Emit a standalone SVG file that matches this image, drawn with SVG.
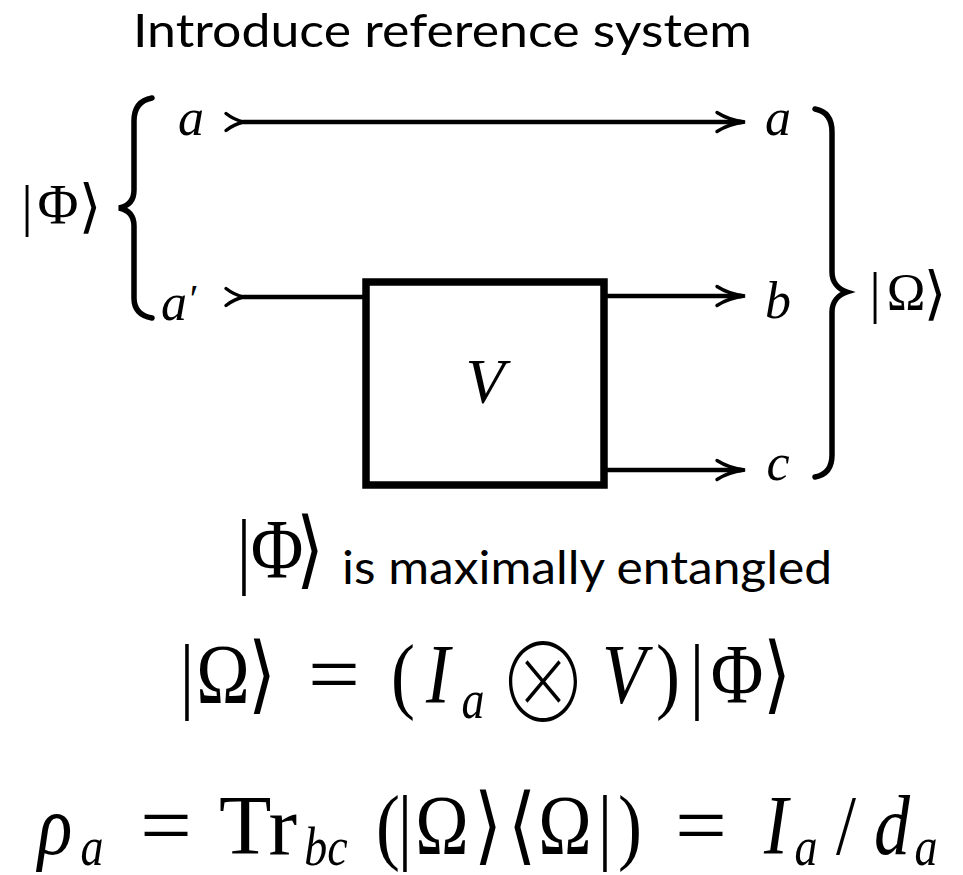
<svg xmlns="http://www.w3.org/2000/svg" width="963" height="875" viewBox="0 0 963 875">
<style>
.m{font-family:"Liberation Serif","DejaVu Serif",serif;fill:#000;text-anchor:middle}
.i{font-style:italic}
.br{font-family:"DejaVu Sans",sans-serif;fill:#000;text-anchor:middle}
.op{font-family:"Noto Sans CJK JP","DejaVu Sans",sans-serif;font-weight:100;fill:#000;text-anchor:middle}
.txt{font-family:Lato,"Liberation Sans",sans-serif;fill:#000}
.wire{stroke:#000;stroke-width:4.5;fill:none}
.brace{stroke:#000;stroke-width:5.5;fill:none;stroke-linecap:round}
.box{stroke:#000;stroke-width:7.5;fill:#fff}
.f{font-size:72px}
.s{font-size:46px}
</style>
<defs>
<marker id="head" markerUnits="userSpaceOnUse" orient="auto" refX="0" refY="0" viewBox="-30 -13 36 26" markerWidth="36" markerHeight="26" overflow="visible">
<path d="M-24,-9.5 C-14,-3 -5,-1 4,0 C-5,1 -14,3 -24,9.5" fill="none" stroke="#000" stroke-width="3.4" stroke-linecap="round"/>
</marker>
<marker id="tail" markerUnits="userSpaceOnUse" orient="auto" refX="0" refY="0" viewBox="-22 -12 26 24" markerWidth="26" markerHeight="24" overflow="visible">
<path d="M-17,-8.5 C-10,-3 -4,-1 1,0 C-4,1 -10,3 -17,8.5" fill="none" stroke="#000" stroke-width="3.4" stroke-linecap="round"/>
</marker>
</defs>
<rect width="963" height="875" fill="#fff"/>

<g id="title">
<text class="txt" x="133" y="47" font-size="46" textLength="619" lengthAdjust="spacingAndGlyphs">Introduce reference system</text>
</g>

<g id="connectors">
<path class="wire" d="M243,122 H741" marker-start="url(#tail)" marker-end="url(#head)"/>
<path class="wire" d="M243,297 H366" marker-start="url(#tail)"/>
<path class="wire" d="M604,296 H741" marker-end="url(#head)"/>
<path class="wire" d="M604,470 H741" marker-end="url(#head)"/>
</g>

<g id="node-V">
<rect class="box" x="366" y="282" width="238" height="203"/>
<text class="m i" x="485" y="403" font-size="64">V</text>
</g>

<g id="input-labels">
<text class="m i" x="191" y="135" font-size="52">a</text>
<text class="m i" x="174" y="320" font-size="52">a</text>
<text class="m" x="194" y="312" font-size="40">′</text>
</g>

<g id="output-labels">
<text class="m i" x="778" y="135" font-size="52">a</text>
<text class="m i" x="778" y="318" font-size="52">b</text>
<text class="m i" x="778" y="480" font-size="52">c</text>
</g>

<g id="phi-state">
<path class="brace" d="M152,98 C141,100 134,107 134,121 L134,190 C134,200 129,206 119,208 C129,210 134,216 134,226 L134,298 C134,310 141,316 152,318"/>
<text class="m" x="27" y="225" font-size="58">|</text>
<text class="m" x="58" y="224" font-size="56">Φ</text>
<text class="br" x="90" y="226" font-size="58">⟩</text>
</g>

<g id="omega-state">
<path class="brace" d="M815,109 C826,111 832,118 832,132 L832,272 C832,282 838,289 847,292 C838,295 832,302 832,312 L832,455 C832,468 826,475 815,477"/>
<text class="m" x="875" y="312" font-size="58">|</text>
<text class="m" x="906" y="310" font-size="52">Ω</text>
<text class="br" x="935" y="313" font-size="58">⟩</text>
</g>

<g id="line-entangled">
<g transform="translate(0,578) scale(1,1.18)">
<text class="m f" x="244" y="0">|</text>
<text class="m f" x="277" y="0">Φ</text>
<text class="br f" x="310" y="0">⟩</text>
</g>
<text class="txt" x="342" y="584" font-size="46" textLength="490" lengthAdjust="spacingAndGlyphs">is maximally entangled</text>
</g>

<g id="formula-omega" transform="translate(0,703) scale(1,1.18)">
<text class="m f" x="187" y="0">|</text>
<text class="m f" x="223" y="0">Ω</text>
<text class="br f" x="262" y="0">⟩</text>
<text class="m f" x="334" y="0" textLength="52" lengthAdjust="spacingAndGlyphs">=</text>
<text class="m f" x="403" y="0">(</text>
<text class="m f i" x="438" y="0">I</text>
<text class="m s i" x="473" y="13">a</text>
<text class="op" x="543" y="17" font-size="92">⊗</text>
<text class="m f i" x="624" y="0">V</text>
<text class="m f" x="668" y="0">)</text>
<text class="m f" x="697" y="0">|</text>
<text class="m f" x="737" y="0">Φ</text>
<text class="br f" x="777" y="0">⟩</text>
</g>

<g id="formula-rho" transform="translate(0,854) scale(1,1.18)">
<text class="m f i" x="55" y="0">ρ</text>
<text class="m s i" x="92" y="9">a</text>
<text class="m f" x="166" y="0" textLength="52" lengthAdjust="spacingAndGlyphs">=</text>
<text class="m f" x="258" y="0" textLength="78" lengthAdjust="spacingAndGlyphs">Tr</text>
<text class="m s i" x="326" y="9">bc</text>
<text class="m f" x="388" y="0">(</text>
<text class="m f" x="405" y="0">|</text>
<text class="m f" x="442" y="0">Ω</text>
<text class="br f" x="488" y="0">⟩</text>
<text class="br f" x="522" y="0">⟨</text>
<text class="m f" x="565" y="0">Ω</text>
<text class="m f" x="605" y="0">|</text>
<text class="m f" x="630" y="0">)</text>
<text class="m f" x="701" y="0" textLength="52" lengthAdjust="spacingAndGlyphs">=</text>
<text class="m f i" x="776" y="0">I</text>
<text class="m s i" x="806" y="9">a</text>
<text class="m f" x="846" y="0">/</text>
<text class="m f i" x="892" y="0">d</text>
<text class="m s i" x="926" y="9">a</text>
</g>
</svg>
